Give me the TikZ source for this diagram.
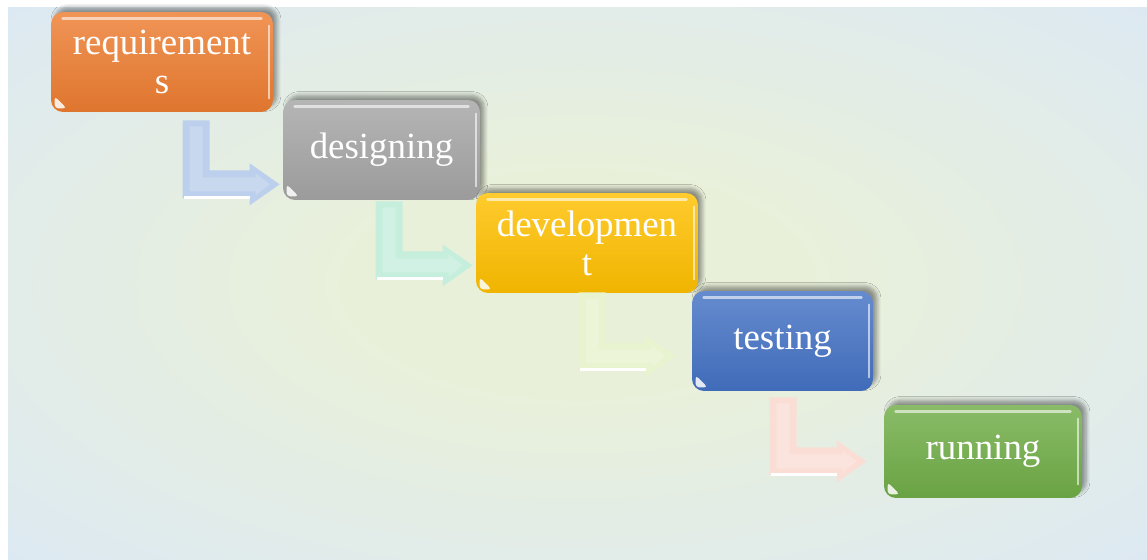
\documentclass[tikz,border=0pt]{standalone}
\usepackage{fontspec}
\setmainfont{Liberation Serif}
\usetikzlibrary{positioning, calc, shadows.blur}
\definecolor{reqorange}{RGB}{237, 125, 49}
\definecolor{desgray}{RGB}{165, 165, 165}
\definecolor{devgold}{RGB}{255, 192, 0}
\definecolor{tstblue}{RGB}{68, 114, 196}
\definecolor{rungreen}{RGB}{112, 173, 71}
\definecolor{arrblue}{RGB}{188, 207, 236}
\definecolor{arrmint}{RGB}{198, 238, 221}
\definecolor{arrlime}{RGB}{232, 243, 208}
\definecolor{arrpink}{RGB}{250, 222, 213}
\definecolor{bgmid}{RGB}{233, 240, 218}
\definecolor{bgedge}{RGB}{219, 232, 247}

\pgfdeclareradialshading{bgglow}{\pgfpoint{0bp}{0bp}}{color(0bp)=(bgmid); color(10bp)=(bgmid); color(40bp)=(bgedge); color(50bp)=(bgedge)}

% gloss strips and the small white corner on a stage box
\newcommand{\gloss}[1]{%
  \draw[white, opacity=.6, line width=1.6pt, line cap=round] ($(#1.north west)+(12,7)$) -- ($(#1.north east)+(-12,7)$);
  \draw[white, opacity=.6, line width=1.2pt, line cap=round] ($(#1.north east)+(-4,14)$) -- ($(#1.south east)+(-4,-14)$);
  \fill[white, opacity=.85, rounded corners=2pt] ($(#1.south west)+(4,-4)$) -- ++(12,0) -- ++(-12,-12) -- cycle;
}

\begin{document}
\begin{tikzpicture}[
      x=0.02cm, y=-0.02cm,
      font=\fontsize{21}{22.2}\selectfont,
      stage/.style={rectangle, rounded corners=0.24cm, inner sep=0pt, text=white, align=center,
        minimum height=2cm,
        blur shadow={shadow xshift=0.08cm, shadow yshift=0.09cm, shadow opacity=40, shadow blur steps=6, shadow blur radius=0.08cm}},
      stagecol/.style={top color=#1!82!white, bottom color=#1!94!black},
      lbend/.pic={
        \fill[#1] (-97,-64) -- (-70,-64) -- (-70,-14) -- (-30,-14) -- (-30,-21) -- (0,0)
          -- (-30,21) -- (-30,14) -- (-97,14) -- cycle;
        \fill[#1!82!white] (-90,-58) -- (-77,-58) -- (-77,-7) -- (-24,-7) -- (-24,-11) -- (-10,0)
          -- (-24,11) -- (-24,7) -- (-90,7) -- cycle;
        \draw[white, line width=1.4pt] (-96,13) -- (-30,13);
      }
  ]
  \useasboundingbox (0,0) rectangle (1147,560);

  % backdrop
  \shade[shading=bgglow] (8,8) rectangle (1147,560);

  % stages
  \node[stage, stagecol=reqorange, minimum width=4.44cm] (req) at (162,62) {requirement\\s};
  \node[stage, stagecol=desgray, minimum width=3.94cm] (des) at (381.5,150) {designing};
  \node[stage, stagecol=devgold, minimum width=4.44cm] (dev) at (587,243) {developmen\\t};
  \node[stage, stagecol=tstblue, minimum width=3.62cm] (tst) at (782.5,341) {testing};
  \node[stage, stagecol=rungreen, minimum width=3.96cm, minimum height=1.86cm] (run) at (983,451.5) {running};

  \gloss{req}
  \gloss{des}
  \gloss{dev}
  \gloss{tst}
  \gloss{run}

  % bent arrows between the stages
  \pic at ($(des.south west)+(-3,-16)$) {lbend=arrblue};
  \pic at ($(dev.south west)+(-3,-28)$) {lbend=arrmint};
  \pic at ($(tst.south west)+(-16,-35)$) {lbend=arrlime};
  \pic at ($(run.south west)+(-17,-37)$) {lbend=arrpink};

\end{tikzpicture}
\end{document}
